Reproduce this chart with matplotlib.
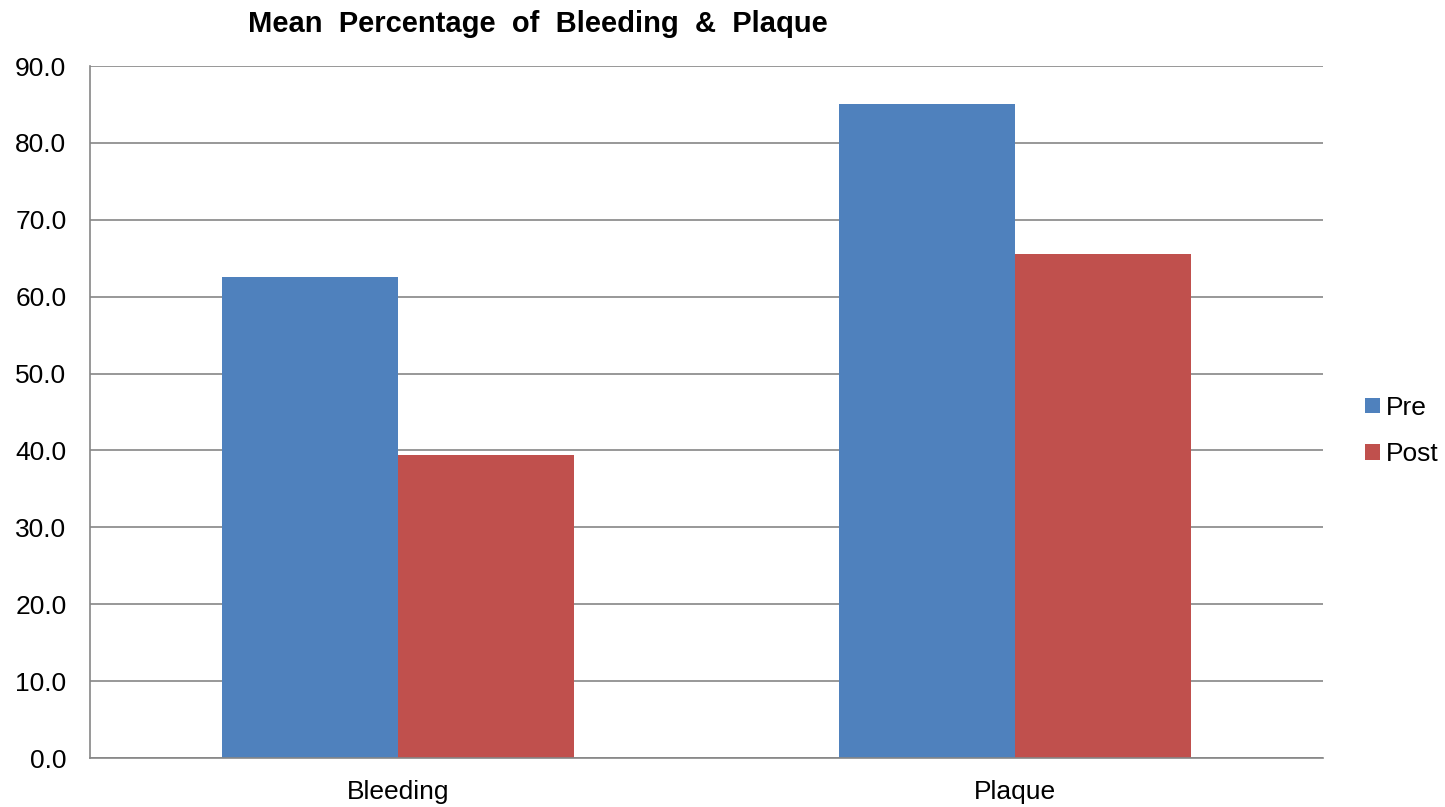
import numpy as np
import matplotlib.pyplot as plt

categories = ['Bleeding', 'Plaque']
pre = [62.5, 85.0]
post = [39.4, 65.5]
series_names = ['Pre', 'Post']
colors = ['#4F81BD', '#C0504D']

plt.rcParams['font.family'] = ['Liberation Sans', 'DejaVu Sans']

fig = plt.figure(figsize=(14.45, 8.07), dpi=100)
ax = fig.add_axes([90/1445, 1 - 758/807, (1323-90)/1445, (758-66)/807])

x = np.arange(len(categories))
w = 1/3.5
ax.bar(x - w/2, pre, width=w, color=colors[0], label=series_names[0], zorder=3)
ax.bar(x + w/2, post, width=w, color=colors[1], label=series_names[1], zorder=3)

ax.set_xlim(-0.5, 1.5)
ax.set_ylim(0, 90)
ax.set_yticks(np.arange(0, 91, 10))
ax.set_yticklabels(['%.1f' % v for v in np.arange(0, 91, 10)], fontsize=19)
ax.set_xticks(x)
ax.set_xticklabels(categories, fontsize=19)
ax.tick_params(axis='both', length=0)
ax.tick_params(axis='y', pad=17)
ax.tick_params(axis='x', pad=16)
ax.grid(axis='y', color='#868686', linewidth=1.2, zorder=0)
for s in ['top', 'right']:
    ax.spines[s].set_visible(False)
for s in ['left', 'bottom']:
    ax.spines[s].set_color('#868686')
    ax.spines[s].set_linewidth(1.2)
    ax.spines[s].set_zorder(4)

fig.text(538/1445, 1 - 24/807, 'Mean  Percentage  of  Bleeding  &  Plaque',
         fontsize=21, fontweight='bold', ha='center', va='center')

leg = fig.legend(loc='center left', bbox_to_anchor=(1352/1445, 1 - 431/807),
                 frameon=False, fontsize=19, handlelength=0.55, handleheight=0.55,
                 handletextpad=0.25, labelspacing=0.85, borderpad=0)

fig.savefig('out.png', dpi=100)
